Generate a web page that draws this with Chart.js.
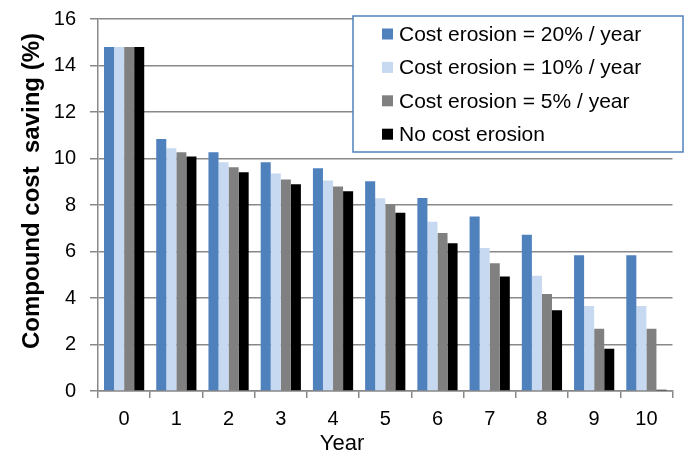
<!DOCTYPE html>
<html>
<head>
<meta charset="utf-8">
<script src="https://cdn.jsdelivr.net/npm/chart.js@4/dist/chart.umd.min.js"></script>
<style>
  html, body { margin: 0; padding: 0; background: #fff; }
  #wrap { width: 699px; height: 457px; position: relative; }
</style>
</head>
<body>
<div id="wrap"><canvas id="chart"></canvas></div>
<script>
// Data =========================================
const years = ["0", "1", "2", "3", "4", "5", "6", "7", "8", "9", "10"];
const erosion20 = [14.8, 10.84, 10.27, 9.84, 9.58, 9.02, 8.3, 7.51, 6.72, 5.84, 5.84];
const erosion10 = [14.8, 10.44, 9.84, 9.35, 9.05, 8.29, 7.28, 6.15, 4.96, 3.66, 3.66];
const erosion5 = [14.8, 10.27, 9.62, 9.1, 8.8, 8.01, 6.8, 5.5, 4.17, 2.68, 2.68];
const noErosion = [14.8, 10.09, 9.41, 8.89, 8.59, 7.67, 6.35, 4.93, 3.47, 1.82, 0.05];
const seriesLabels = [
  "Cost erosion = 20% / year",
  "Cost erosion = 10% / year",
  "Cost erosion = 5% / year",
  "No cost erosion",
];
const yTicks = [0, 2, 4, 6, 8, 10, 12, 14, 16];

const FONT = "'Liberation Sans', Arial, sans-serif";
const GRID = "#888888";

Chart.defaults.font.family = FONT;
Chart.defaults.color = "#000";

// Legend box drawn inside the plot ==============================
const boxLegend = {
  id: "boxLegend",
  afterDatasetsDraw(chart) {
    const ctx = chart.ctx;
    ctx.save();
    const x0 = 353, y0 = 16, w = 330, h = 136;
    ctx.fillStyle = "#fff";
    ctx.fillRect(x0, y0, w, h);
    ctx.strokeStyle = "#4f81bd";
    ctx.lineWidth = 1.5;
    ctx.strokeRect(x0, y0, w, h);
    ctx.font = "21px " + FONT;
    ctx.textBaseline = "middle";
    ctx.textAlign = "left";
    chart.data.datasets.forEach((ds, i) => {
      const cy = 34 + i * 33.4;
      ctx.fillStyle = ds.backgroundColor;
      ctx.fillRect(382, cy - 5.5, 11, 11);
      ctx.fillStyle = "#000";
      ctx.fillText(ds.label, 399, cy + 1);
    });
    ctx.restore();
  },
};

// Axis titles ===================================
const axisTitles = {
  id: "axisTitles",
  afterDraw(chart) {
    const ctx = chart.ctx;
    ctx.save();
    ctx.fillStyle = "#000";
    ctx.textAlign = "center";
    ctx.textBaseline = "middle";
    ctx.font = "22px " + FONT;
    ctx.fillText("Year", 342, 444);
    ctx.translate(32, 191);
    ctx.rotate(-Math.PI / 2);
    ctx.font = "bold 24px " + FONT;
    ctx.fillText("Compound cost  saving (%)", 0, 0);
    ctx.restore();
  },
};

const colors = ["#4f81bd", "#c6d9f1", "#808080", "#000000"];
const values = [erosion20, erosion10, erosion5, noErosion];

const chart = new Chart(document.getElementById("chart"), {
  type: "bar",
  data: {
    labels: years,
    datasets: values.map((v, i) => ({
      label: seriesLabels[i],
      data: v,
      backgroundColor: colors[i],
      borderWidth: 0,
      categoryPercentage: 0.77,
      barPercentage: 1.0,
    })),
  },
  options: {
    responsive: true,
    maintainAspectRatio: false,
    animation: false,
    layout: { padding: { top: 19, right: 26.5, left: 0, bottom: 0 } },
    plugins: {
      legend: { display: false },
      tooltip: { enabled: false },
    },
    scales: {
      x: {
        afterFit(scale) {
          scale.height = 66;
          scale.paddingLeft = 0;
          scale.paddingRight = 0;
        },
        grid: {
          offset: true,
          drawOnChartArea: false,
          drawTicks: true,
          tickLength: 7,
          color: GRID,
          lineWidth: 1.5,
        },
        border: { color: GRID, width: 1.5 },
        ticks: { font: { size: 20 }, padding: 9, maxRotation: 0 },
      },
      y: {
        min: 0,
        max: 16,
        afterFit(scale) {
          scale.width = 98;
          scale.paddingTop = 0;
          scale.paddingBottom = 0;
        },
        afterBuildTicks(scale) { scale.ticks = yTicks.map((v) => ({ value: v })); },
        grid: { color: GRID, lineWidth: 1.5, tickLength: 8 },
        border: { color: GRID, width: 1.5 },
        ticks: { font: { size: 20 }, padding: 14 },
      },
    },
  },
  plugins: [boxLegend, axisTitles],
});
</script>
</body>
</html>
